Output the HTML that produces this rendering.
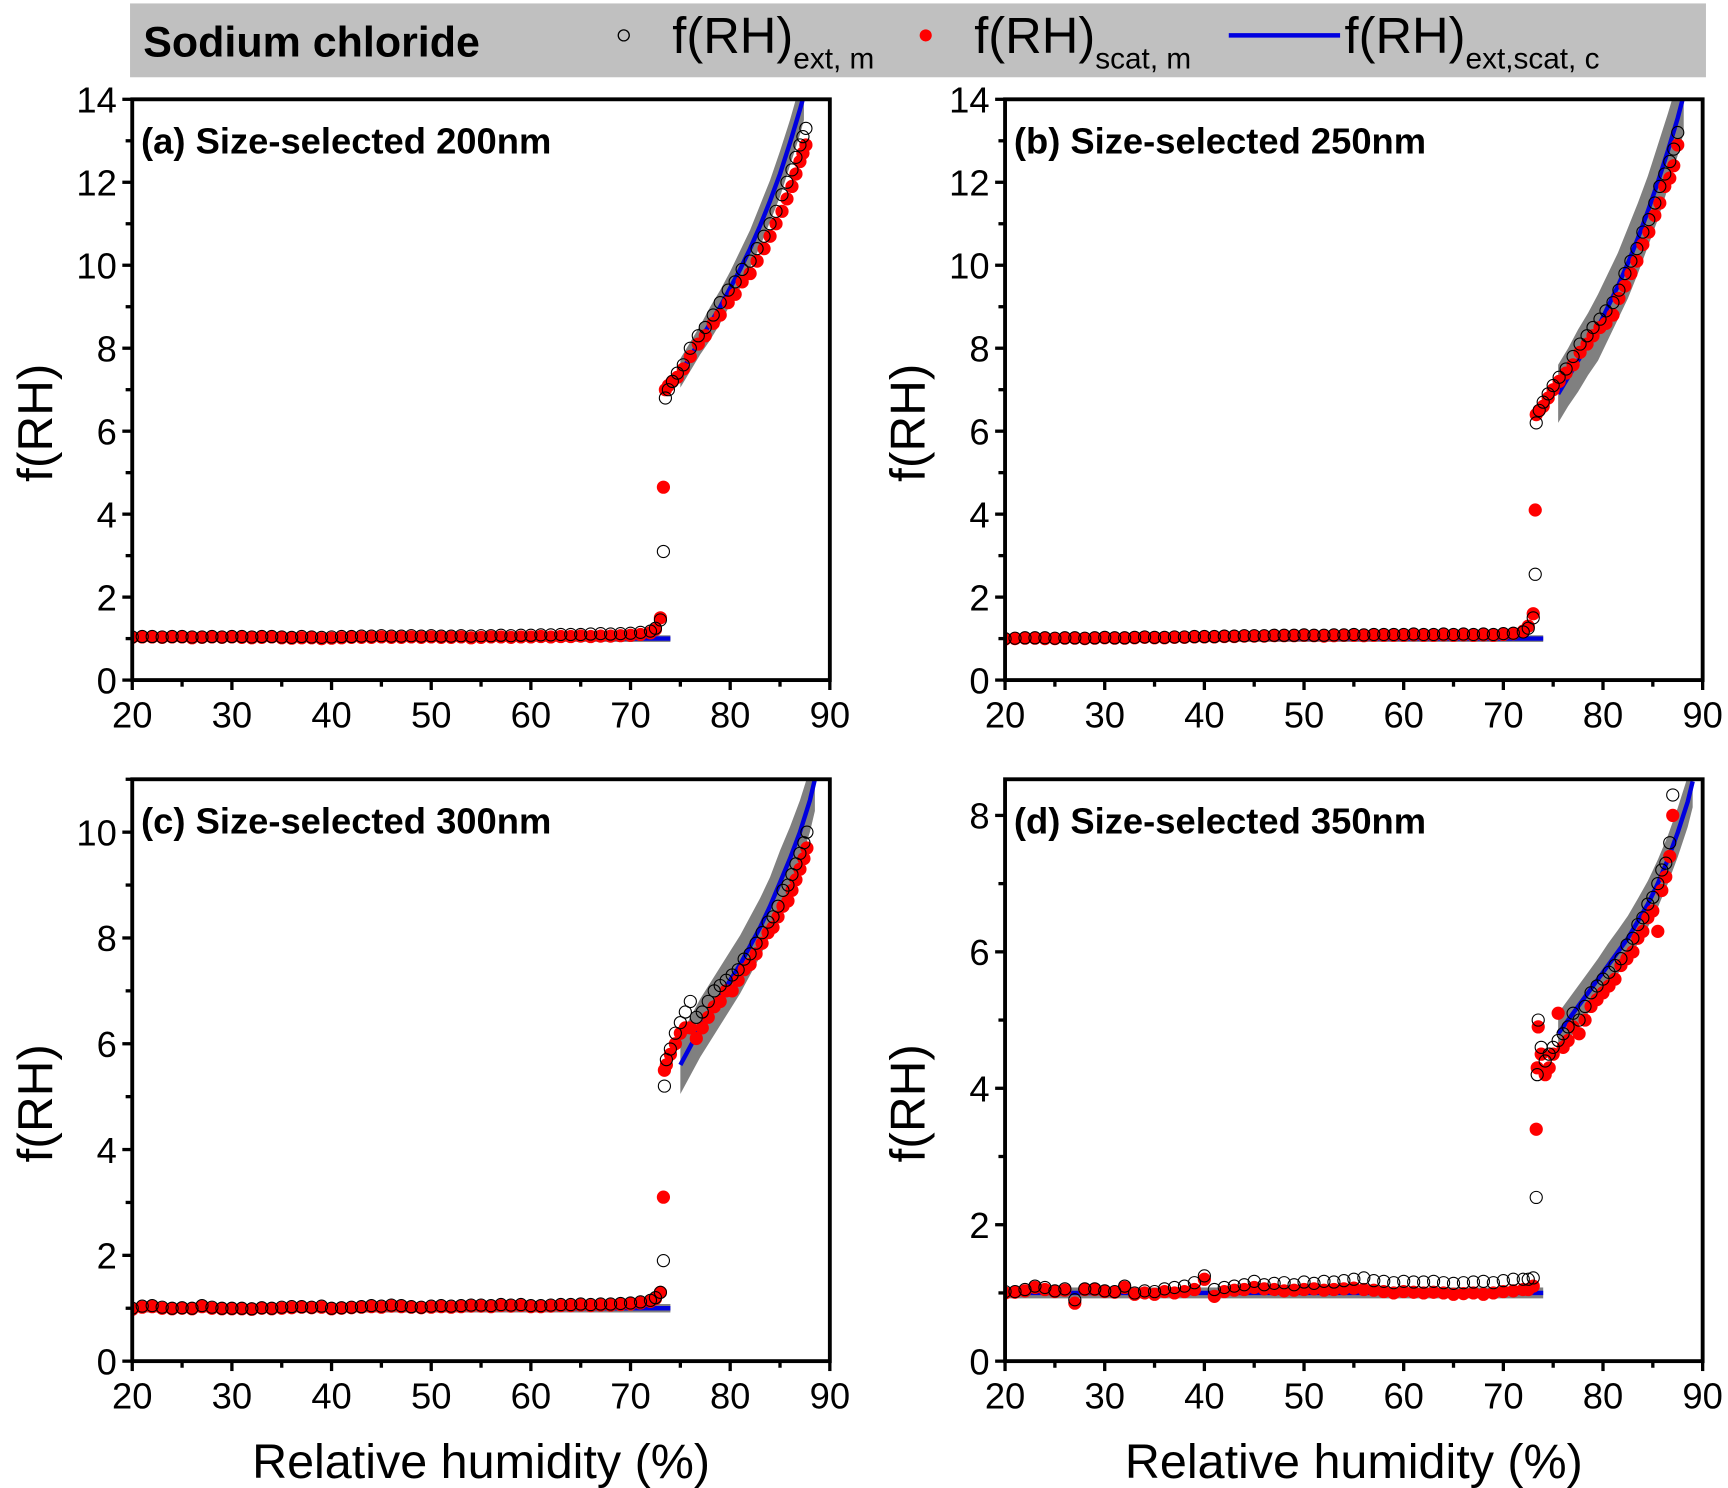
<!DOCTYPE html>
<html><head><meta charset="utf-8"><style>
html,body{margin:0;padding:0;background:#fff;}
svg{display:block;font-family:"Liberation Sans",Arial,sans-serif;}
</style></head><body>
<svg id="fig" width="1728" height="1488" viewBox="0 0 1568 1350" xmlns="http://www.w3.org/2000/svg">
<g>
<rect x="118" y="3" width="1430" height="67" fill="#c0c0c0"/>
<text x="130" y="51" font-size="39" font-weight="bold">Sodium chloride</text>
<g><circle cx="566" cy="32" r="5" fill="none" stroke="#000" stroke-width="1.2"/>
<text x="610" y="48" font-size="46">f(RH)<tspan font-size="27" dy="14">ext, m</tspan></text></g>
<g><circle cx="840" cy="32" r="5.5" fill="#f00"/>
<text x="884" y="48" font-size="46">f(RH)<tspan font-size="27" dy="14">scat, m</tspan></text></g>
<g><line x1="1115" y1="32" x2="1216" y2="32" stroke="#0000e0" stroke-width="4"/>
<text x="1220" y="48" font-size="46">f(RH)<tspan font-size="27" dy="14">ext,scat, c</tspan></text></g>
</g>
<g id="panels"></g>
</svg>
<script>
const flatRH=[20,21,22,23,24,25,26,27,28,29,30,31,32,33,34,35,36,37,38,39,40,41,42,43,44,45,46,47,48,49,50,51,52,53,54,55,56,57,58,59,60,61,62,63,64,65,66,67,68,69,70,71,72,72.5,73];
// panel a
const aExtFlat=[1.04,1.05,1.05,1.04,1.05,1.05,1.04,1.04,1.05,1.04,1.05,1.05,1.04,1.05,1.05,1.04,1.03,1.05,1.04,1.03,1.04,1.05,1.05,1.06,1.06,1.07,1.06,1.06,1.07,1.06,1.07,1.06,1.06,1.07,1.06,1.07,1.07,1.08,1.07,1.08,1.08,1.09,1.09,1.1,1.1,1.1,1.11,1.12,1.11,1.12,1.13,1.15,1.18,1.25,1.45];
const aScatFlat=[1.03,1.04,1.04,1.03,1.04,1.04,1.02,1.03,1.04,1.03,1.04,1.03,1.02,1.03,1.04,1.02,1.01,1.02,1.02,1.0,1.01,1.02,1.03,1.03,1.03,1.04,1.03,1.03,1.04,1.03,1.04,1.03,1.03,1.04,1.02,1.03,1.04,1.04,1.03,1.04,1.04,1.05,1.04,1.05,1.05,1.06,1.05,1.06,1.06,1.07,1.08,1.1,1.14,1.22,1.5];
const aUpRH=[73.3,73.5,73.8,74.2,74.7,75.3,76,76.8,77.5,78.3,79,79.8,80.5,81.2,82,82.7,83.4,84,84.6,85.2,85.7,86.2,86.6,87,87.3,87.6];
const aUpExt=[3.1,6.8,7.0,7.2,7.4,7.6,8.0,8.3,8.5,8.8,9.1,9.4,9.6,9.9,10.1,10.4,10.7,11.0,11.3,11.7,12.0,12.3,12.6,12.9,13.1,13.3];
const aUpScat=[4.65,7.0,7.1,7.2,7.3,7.5,7.8,8.1,8.3,8.6,8.8,9.1,9.3,9.6,9.8,10.1,10.4,10.7,11.0,11.3,11.6,11.9,12.2,12.5,12.7,12.9];
const aFitRH=[75,76,77,78,79,80,81,82,83,84,85,86,87,87.4];
const aFitVal=[7.4,7.8,8.2,8.6,9.0,9.45,9.9,10.4,10.95,11.55,12.2,12.95,13.75,14.1];
const aFitErr=[0.35,0.35,0.35,0.4,0.4,0.4,0.45,0.45,0.5,0.5,0.55,0.55,0.6,0.6];
// panel b
const bExtFlat=[1.0,1.01,1.02,1.02,1.02,1.01,1.02,1.02,1.01,1.02,1.03,1.02,1.02,1.03,1.04,1.03,1.03,1.04,1.04,1.05,1.05,1.05,1.06,1.06,1.07,1.07,1.07,1.08,1.08,1.08,1.09,1.08,1.08,1.09,1.09,1.1,1.09,1.1,1.1,1.1,1.1,1.11,1.1,1.1,1.11,1.1,1.11,1.1,1.11,1.1,1.12,1.13,1.16,1.25,1.5];
const bScatFlat=[0.99,1.0,1.01,1.01,1.0,1.0,1.01,1.01,1.0,1.01,1.02,1.01,1.01,1.02,1.03,1.02,1.02,1.03,1.03,1.04,1.04,1.04,1.05,1.05,1.06,1.06,1.06,1.07,1.07,1.07,1.08,1.07,1.06,1.07,1.08,1.08,1.07,1.08,1.08,1.08,1.08,1.09,1.08,1.08,1.09,1.08,1.09,1.08,1.09,1.08,1.1,1.12,1.18,1.3,1.6];
const bUpRH=[73.2,73.3,73.6,74,74.5,75,75.6,76.3,77,77.7,78.4,79,79.7,80.3,81,81.6,82.2,82.8,83.4,84,84.6,85.2,85.7,86.2,86.7,87.1,87.5];
const bUpExt=[2.55,6.2,6.5,6.7,6.9,7.1,7.3,7.5,7.8,8.1,8.3,8.5,8.7,8.9,9.1,9.4,9.8,10.1,10.4,10.8,11.1,11.5,11.9,12.2,12.5,12.8,13.2];
const bUpScat=[4.1,6.4,6.5,6.6,6.8,7.0,7.2,7.4,7.6,7.9,8.1,8.3,8.5,8.6,8.8,9.2,9.5,9.8,10.1,10.5,10.8,11.2,11.5,11.9,12.1,12.4,12.9];
const bFitRH=[75.5,76.5,77.5,78.5,79.5,80.5,81.5,82.5,83.5,84.5,85.5,86.5,87.5,88.1];
const bFitVal=[6.9,7.3,7.7,8.1,8.5,9.0,9.5,10.05,10.65,11.3,12.0,12.75,13.55,14.1];
const bFitErr=[0.7,0.7,0.75,0.75,0.8,0.8,0.8,0.85,0.85,0.85,0.9,0.9,0.9,0.9];
// panel c
const cExtFlat=[1.0,1.04,1.05,1.02,1.0,1.01,1.0,1.05,1.02,1.0,1.0,1.0,0.99,1.01,1.0,1.02,1.03,1.03,1.02,1.04,1.0,1.01,1.02,1.03,1.05,1.04,1.06,1.05,1.03,1.02,1.04,1.05,1.04,1.05,1.06,1.06,1.05,1.07,1.06,1.07,1.05,1.05,1.06,1.07,1.07,1.08,1.07,1.08,1.08,1.09,1.1,1.12,1.15,1.2,1.3];
const cScatFlat=[0.98,1.02,1.03,1.0,0.99,1.0,0.99,1.03,1.0,0.99,0.99,0.99,0.98,1.0,0.99,1.0,1.01,1.02,1.01,1.02,0.99,1.0,1.01,1.02,1.03,1.02,1.04,1.03,1.02,1.01,1.02,1.03,1.02,1.03,1.04,1.04,1.03,1.05,1.04,1.05,1.03,1.03,1.04,1.05,1.05,1.06,1.05,1.06,1.06,1.07,1.08,1.1,1.13,1.18,1.3];
const cUpRH=[73.3,73.4,73.6,74,74.5,75,75.5,76,76.6,77.2,77.8,78.4,79,79.6,80.2,80.8,81.4,82,82.6,83.2,83.8,84.3,84.8,85.3,85.8,86.2,86.6,87,87.4,87.7];
const cUpExt=[1.9,5.2,5.7,5.9,6.2,6.4,6.6,6.8,6.5,6.6,6.8,7.0,7.1,7.2,7.3,7.4,7.6,7.7,7.9,8.1,8.3,8.4,8.6,8.9,9.0,9.2,9.4,9.6,9.8,10.0];
const cUpScat=[3.1,5.5,5.6,5.8,6.0,6.2,6.3,6.3,6.1,6.3,6.5,6.7,6.8,7.0,7.0,7.2,7.4,7.5,7.7,7.9,8.1,8.2,8.4,8.6,8.7,8.9,9.1,9.3,9.5,9.7];
const cFitRH=[75,76,77,78,79,80,81,82,83,84,85,86,87,88,88.5];
const cFitVal=[5.6,5.95,6.3,6.6,6.9,7.2,7.5,7.85,8.2,8.6,9.05,9.5,10.0,10.6,11.0];
const cFitErr=[0.55,0.55,0.55,0.55,0.55,0.55,0.55,0.55,0.55,0.55,0.6,0.6,0.6,0.6,0.6];
// panel d
const dExtFlat=[1.02,1.02,1.05,1.1,1.08,1.03,1.06,0.9,1.06,1.06,1.03,1.02,1.1,1.0,1.03,1.02,1.06,1.08,1.1,1.15,1.25,1.05,1.08,1.1,1.12,1.17,1.12,1.14,1.15,1.12,1.16,1.14,1.17,1.16,1.18,1.2,1.22,1.18,1.17,1.15,1.17,1.16,1.16,1.17,1.15,1.14,1.15,1.16,1.17,1.15,1.18,1.2,1.2,1.2,1.22];
const dScatFlat=[1.0,1.01,1.03,1.08,1.05,1.02,1.04,0.85,1.05,1.05,1.02,1.01,1.08,0.98,1.0,0.98,1.02,1.0,1.02,1.05,1.2,0.95,1.02,1.04,1.05,1.08,1.06,1.05,1.03,1.04,1.05,1.06,1.04,1.05,1.06,1.07,1.05,1.04,1.02,1.0,1.02,1.01,1.0,1.01,1.0,0.98,0.99,1.0,0.98,1.0,1.02,1.03,1.05,1.05,1.1];
const dUpRH=[73.3,73.4,73.5,73.8,74.2,74.6,75,75.5,76,76.5,77,77.6,78.2,78.8,79.4,80,80.6,81.2,81.8,82.4,83,83.5,84,84.5,85,85.5,85.9,86.3,86.7,87];
const dUpExt=[2.4,4.2,5.0,4.6,4.4,4.5,4.6,4.7,4.8,4.9,5.1,5.0,5.2,5.4,5.5,5.6,5.7,5.8,5.9,6.1,6.2,6.4,6.5,6.7,6.8,7.0,7.2,7.3,7.6,8.3];
const dUpScat=[3.4,4.3,4.9,4.5,4.2,4.3,4.5,5.1,4.6,4.7,4.9,4.8,5.0,5.2,5.3,5.4,5.5,5.6,5.8,5.9,6.0,6.2,6.3,6.5,6.6,6.3,6.9,7.1,7.4,8.0];
const dFitRH=[75.5,76.5,77.5,78.5,79.5,80.5,81.5,82.5,83.5,84.5,85.5,86.5,87.5,88.5,89];
const dFitVal=[4.8,5.0,5.2,5.4,5.6,5.8,6.0,6.2,6.45,6.7,7.0,7.35,7.75,8.2,8.5];
const dFitErr=[0.3,0.3,0.3,0.3,0.3,0.32,0.32,0.33,0.33,0.34,0.35,0.35,0.36,0.37,0.38];
const xTicks=[20,30,40,50,60,70,80,90];

const NS="http://www.w3.org/2000/svg";
function mk(tag,attrs,parent){const e=document.createElementNS(NS,tag);for(const k in attrs)e.setAttribute(k,attrs[k]);parent.appendChild(e);return e;}
const root=document.getElementById('panels');
const panels=[
 {id:'a',x0:120,x1:753,y0:90,y1:617,ymax:14,yt:[0,2,4,6,8,10,12,14],title:'(a) Size-selected 200nm',ef:aExtFlat,sf:aScatFlat,ur:aUpRH,ue:aUpExt,us:aUpScat,fr:aFitRH,fv:aFitVal,fe:aFitErr,xlab:false},
 {id:'b',x0:912,x1:1545,y0:90,y1:617,ymax:14,yt:[0,2,4,6,8,10,12,14],title:'(b) Size-selected 250nm',ef:bExtFlat,sf:bScatFlat,ur:bUpRH,ue:bUpExt,us:bUpScat,fr:bFitRH,fv:bFitVal,fe:bFitErr,xlab:false},
 {id:'c',x0:120,x1:753,y0:707,y1:1235,ymax:11,yt:[0,2,4,6,8,10],title:'(c) Size-selected 300nm',ef:cExtFlat,sf:cScatFlat,ur:cUpRH,ue:cUpExt,us:cUpScat,fr:cFitRH,fv:cFitVal,fe:cFitErr,xlab:true},
 {id:'d',x0:912,x1:1545,y0:707,y1:1235,ymax:8.53,yt:[0,2,4,6,8],title:'(d) Size-selected 350nm',ef:dExtFlat,sf:dScatFlat,ur:dUpRH,ue:dUpExt,us:dUpScat,fr:dFitRH,fv:dFitVal,fe:dFitErr,xlab:true}
];
panels.forEach(p=>{
 const X=v=>p.x0+(v-20)/70*(p.x1-p.x0);
 const Y=v=>p.y1-v/p.ymax*(p.y1-p.y0);
 const g=mk('g',{},root);
 
 
 const cid='clip'+p.id;
 const cp=mk('clipPath',{id:cid},g);mk('rect',{x:p.x0,y:p.y0,width:p.x1-p.x0,height:p.y1-p.y0},cp);
 const pg=mk('g',{'clip-path':'url(#'+cid+')'},g);
 const fb=mk('rect',{x:X(20),y:Y(1.08),width:X(74)-X(20),height:Y(0.92)-Y(1.08),fill:'#808080'},pg);
 
 
 const fl=mk('line',{x1:X(20),y1:Y(1),x2:X(74),y2:Y(1),stroke:'#0000e0','stroke-width':4},pg);
 
 
 let pts=p.fr.map((r,i)=>X(r)+','+Y(p.fv[i]+p.fe[i]));
 for(let i=p.fr.length-1;i>=0;i--)pts.push(X(p.fr[i])+','+Y(p.fv[i]-p.fe[i]));
 const band=mk('polygon',{points:pts.join(' '),fill:'#808080'},pg);
 
 
 const fit=mk('polyline',{points:p.fr.map((r,i)=>X(r)+','+Y(p.fv[i])).join(' '),fill:'none',stroke:'#0000e0','stroke-width':4},pg);
 
 
 const sg=mk('g',{fill:'#f00'},pg);
 
 
 flatRH.forEach((r,i)=>{const c=mk('circle',{cx:X(r),cy:Y(p.sf[i]),r:6},sg);});
 p.ur.forEach((r,i)=>{const c=mk('circle',{cx:X(r),cy:Y(p.us[i]),r:6},sg);});
 const eg=mk('g',{fill:'none',stroke:'#000','stroke-width':1},pg);
 
 
 flatRH.forEach((r,i)=>{const c=mk('circle',{cx:X(r),cy:Y(p.ef[i]),r:5.5},eg);});
 p.ur.forEach((r,i)=>{const c=mk('circle',{cx:X(r),cy:Y(p.ue[i]),r:5.5},eg);});
 const fr=mk('rect',{x:p.x0,y:p.y0,width:p.x1-p.x0,height:p.y1-p.y0,fill:'none',stroke:'#000','stroke-width':3.5},g);
 
 
 const xa=mk('g',{},g);
 
 
 for(let v=20;v<=90;v+=5){mk('line',{x1:X(v),y1:p.y1,x2:X(v),y2:p.y1+(v%10===0?9:6),stroke:'#000','stroke-width':3},xa);}
 xTicks.forEach(v=>{const t=mk('text',{x:X(v),y:p.y1+43,'font-size':33,'text-anchor':'middle'},xa);t.textContent=v;});
 const ya=mk('g',{},g);
 
 
 for(let v=0;v<=p.ymax;v+=1){mk('line',{x1:p.x0,y1:Y(v),x2:p.x0-(v%2===0?9:6),y2:Y(v),stroke:'#000','stroke-width':3},ya);}
 p.yt.forEach(v=>{const t=mk('text',{x:p.x0-14,y:Y(v)+12,'font-size':33,'text-anchor':'end'},ya);t.textContent=v;});
 const yl=mk('text',{x:0,y:0,'font-size':45,'text-anchor':'middle',transform:'translate('+(p.x0-73)+','+((p.y0+p.y1)/2+30)+') rotate(-90)'},g);
 yl.textContent='f(RH)';
 
 
 const tt=mk('text',{x:p.x0+8,y:p.y0+49,'font-size':33,'font-weight':'bold'},g);
 tt.textContent=p.title;
 
 
 if(p.xlab){const xl=mk('text',{x:(p.x0+p.x1)/2,y:1341,'font-size':44,'text-anchor':'middle'},g);xl.textContent='Relative humidity (%)';}
});
</script>
</body></html>
